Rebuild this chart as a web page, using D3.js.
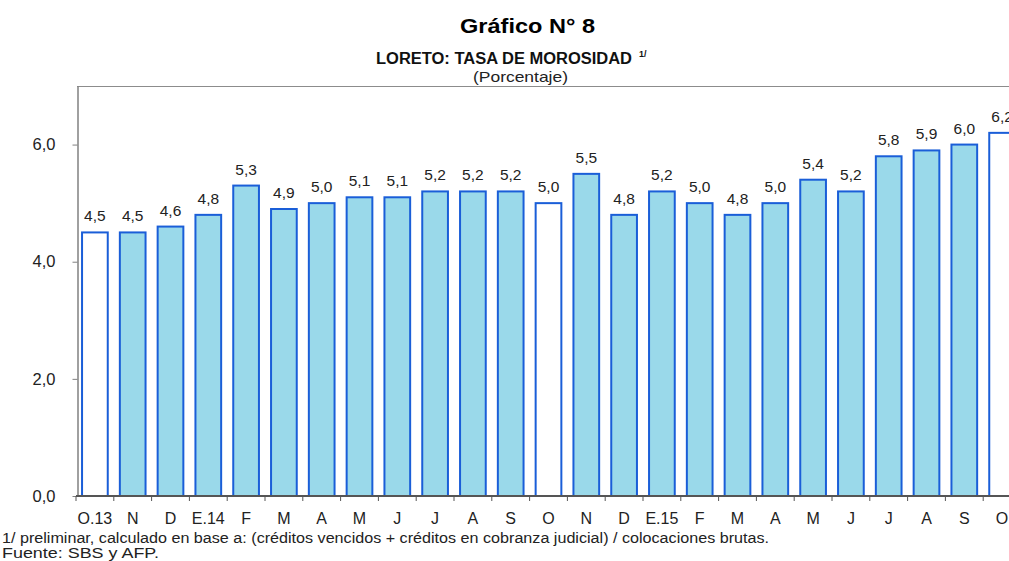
<!DOCTYPE html>
<html>
<head>
<meta charset="utf-8">
<script src="https://cdn.jsdelivr.net/npm/d3@7"></script>
<style>
  body { margin: 0; background: #fff; }
  svg { display: block; font-family: "Liberation Sans", Arial, sans-serif; }
</style>
</head>
<body>
<div id="chart"></div>
<script>
// categories (months) and values
var months = ["O.13", "N", "D", "E.14", "F", "M", "A", "M", "J", "J", "A", "S", "O",
              "N", "D", "E.15", "F", "M", "A", "M", "J", "J", "A", "S", "O"];
var tasa = [4.5, 4.5, 4.6, 4.8, 5.3, 4.9, 5.0, 5.1, 5.1, 5.2, 5.2, 5.2, 5.0,
            5.5, 4.8, 5.2, 5.0, 4.8, 5.0, 5.4, 5.2, 5.8, 5.9, 6.0, 6.2];
// octubre bars are drawn white
var resaltados = [0, 12, 24];
var yTicks = [0, 2, 4, 6];

var width = 1009, height = 561;
var margin = { top: 86, left: 76, bottom: 65 };
var plotRight = 1021;

var svg = d3.select("#chart").append("svg")
    .attr("width", width)
    .attr("height", height);

var x = d3.scaleBand()
    .domain(d3.range(months.length))
    .range([margin.left, plotRight])
    .paddingInner(0.32)
    .paddingOuter(0.16);

var y = d3.scaleLinear()
    .domain([0, 7])
    .range([height - margin.bottom, margin.top]);

var y0 = y(0);
var fmt = function(d) { return d3.format(".1f")(d).replace(".", ","); };

// titles
svg.append("text")
    .attr("x", 460).attr("y", 33)
    .attr("textLength", 135).attr("lengthAdjust", "spacingAndGlyphs")
    .style("font-size", "20px").style("font-weight", "bold")
    .text("Gráfico N° 8");

svg.append("text")
    .attr("x", 376).attr("y", 64)
    .attr("textLength", 256).attr("lengthAdjust", "spacingAndGlyphs")
    .style("font-size", "16px").style("font-weight", "bold")
    .attr("fill", "#111")
    .text("LORETO: TASA DE MOROSIDAD");
svg.append("text")
    .attr("x", 639).attr("y", 57)
    .style("font-size", "9px").style("font-weight", "bold")
    .attr("fill", "#111")
    .text("1/");

// top frame line
svg.append("line")
    .attr("x1", margin.left + 1).attr("x2", width)
    .attr("y1", y(7) + 0.5).attr("y2", y(7) + 0.5)
    .attr("stroke", "#8c8c8c").attr("stroke-width", 1);

svg.append("text")
    .attr("x", 473).attr("y", 82)
    .attr("textLength", 95).attr("lengthAdjust", "spacingAndGlyphs")
    .style("font-size", "15px")
    .attr("fill", "#222")
    .text("(Porcentaje)");

// y axis
var yAxis = svg.append("g")
    .attr("transform", "translate(" + (margin.left + 1.5) + ",0)")
    .call(d3.axisLeft(y).tickValues(yTicks).tickSize(5).tickSizeOuter(0).tickFormat(fmt));
yAxis.select(".domain").attr("stroke", "#808080").attr("stroke-width", 1.5);
yAxis.selectAll(".tick line").attr("stroke", "#808080");
yAxis.selectAll(".tick text")
    .attr("x", -22)
    .style("font-size", "16.5px").style("font-family", "'Liberation Sans', Arial, sans-serif")
    .attr("fill", "#222");

// bars
svg.selectAll("rect.bar")
    .data(tasa)
    .enter().append("rect")
    .attr("class", "bar")
    .attr("x", function(d, i) { return x(i); })
    .attr("width", x.bandwidth())
    .attr("y", function(d) { return y(d); })
    .attr("height", function(d) { return y0 - y(d); })
    .attr("fill", function(d, i) { return resaltados.indexOf(i) >= 0 ? "#ffffff" : "#9AD9EA"; })
    .attr("stroke", "#1A5ED8")
    .attr("stroke-width", 2);

// value labels
svg.selectAll("text.val")
    .data(tasa)
    .enter().append("text")
    .attr("class", "val")
    .attr("x", function(d, i) { return x(i) + x.bandwidth() / 2; })
    .attr("y", function(d) { return y(d) - 11; })
    .attr("text-anchor", "middle")
    .style("font-size", "15.5px").attr("fill", "#222")
    .text(fmt);

// x axis (ticks between categories)
var xAxis = svg.append("g")
    .attr("transform", "translate(0," + y0 + ")");
xAxis.append("line")
    .attr("x1", margin.left).attr("x2", width)
    .attr("stroke", "#555").attr("stroke-width", 2);
xAxis.selectAll("line.tk")
    .data(d3.range(months.length))
    .enter().append("line")
    .attr("class", "tk")
    .attr("x1", function(i) { return x(i) - x.step() * x.paddingInner() / 2; })
    .attr("x2", function(i) { return x(i) - x.step() * x.paddingInner() / 2; })
    .attr("y1", 0).attr("y2", 5)
    .attr("stroke", "#555");
xAxis.selectAll("text")
    .data(months)
    .enter().append("text")
    .attr("x", function(d, i) { return x(i) + x.bandwidth() / 2; })
    .attr("y", 28)
    .attr("text-anchor", "middle")
    .style("font-size", "16px").attr("fill", "#222")
    .text(function(d) { return d; });

// footnotes
svg.append("text")
    .attr("x", 2).attr("y", 543)
    .attr("textLength", 767).attr("lengthAdjust", "spacingAndGlyphs")
    .style("font-size", "15.5px").attr("fill", "#222")
    .text("1/ preliminar, calculado en base a: (créditos vencidos + créditos en cobranza judicial) / colocaciones brutas.");
svg.append("text")
    .attr("x", 2).attr("y", 558)
    .attr("textLength", 157).attr("lengthAdjust", "spacingAndGlyphs")
    .style("font-size", "15.5px").attr("fill", "#222")
    .text("Fuente: SBS  y AFP.");
</script>
</body>
</html>
